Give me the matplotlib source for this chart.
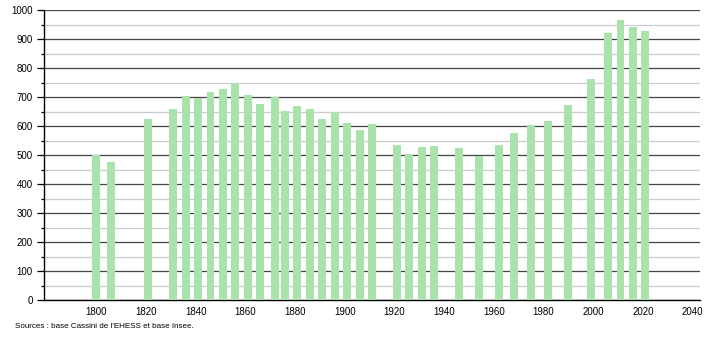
import matplotlib
matplotlib.use("Agg")
import matplotlib.pyplot as plt
from matplotlib.ticker import MultipleLocator

years = [1800, 1806, 1821, 1831, 1836, 1841, 1846, 1851, 1856, 1861,
         1866, 1872, 1876, 1881, 1886, 1891, 1896, 1901, 1906, 1911,
         1921, 1926, 1931, 1936, 1946, 1954, 1962, 1968, 1975, 1982,
         1990, 1999, 2006, 2011, 2016, 2021]
population = [500, 475, 624, 659, 705, 695, 718, 728, 746, 706,
              675, 699, 651, 669, 659, 624, 647, 609, 586, 607,
              534, 503, 526, 531, 525, 498, 534, 576, 603, 617,
              672, 762, 921, 964, 940, 927]
xticks = list(range(1800, 2041, 20))

plt.rcParams['font.family'] = ['Liberation Sans', 'DejaVu Sans']

fig = plt.figure(figsize=(7.1, 3.4), dpi=100)
ax = fig.add_axes([44/710, 40/340, 656/710, 290/340])

ax.set_ylim(0, 1000)
ax.set_xlim(1779, 2043)
ax.yaxis.set_major_locator(MultipleLocator(100))
ax.yaxis.set_minor_locator(MultipleLocator(50))
ax.grid(which='major', axis='y', color='#444444', linewidth=0.9)
ax.grid(which='minor', axis='y', color='#cccccc', linewidth=0.9)
ax.set_axisbelow(True)

ax.bar(years, population, width=3.2, color='#a9e2aa', zorder=3)

ax.set_xticks(xticks)
ax.tick_params(axis='x', length=0, labelsize=7, pad=5)
ax.tick_params(axis='y', which='major', length=5, width=0.9, labelsize=7, pad=3)
ax.tick_params(axis='y', which='minor', length=2.5, width=0.9)

for s in ['top', 'right']:
    ax.spines[s].set_visible(False)
ax.spines['left'].set_linewidth(1.0)
ax.spines['bottom'].set_linewidth(1.0)

fig.text(15/710, 1 - 327/340, "Sources : base Cassini de l'EHESS et base Insee.",
         fontsize=5.8, va='center', ha='left')

fig.savefig("out.png", dpi=100)
